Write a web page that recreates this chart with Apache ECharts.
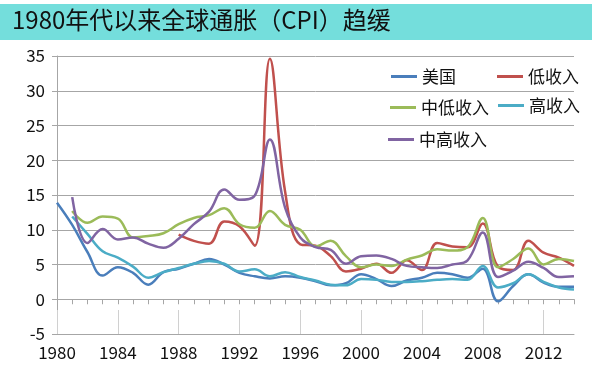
<!DOCTYPE html>
<html>
<head>
<meta charset="utf-8">
<script src="https://cdn.jsdelivr.net/npm/echarts@6/dist/echarts.min.js"></script>
<style>
html, body { margin: 0; padding: 0; background: #fff; }
#cpi-chart { width: 600px; height: 376px; }
</style>
</head>
<body>
<div id="cpi-chart"></div>
<script>
var years = [];
for (var y = 1980; y <= 2014; y++) years.push(String(y));

var usa = [13.9, 10.7, 6.8, 3.4, 4.6, 3.8, 2.1, 3.9, 4.4, 5.1,
    5.8, 5.0, 3.8, 3.3, 3.0, 3.3, 3.1, 2.6, 2.0, 2.3,
    3.6, 2.9, 1.9, 2.7, 3.1, 3.8, 3.6, 3.1, 4.4, -0.3,
    1.9, 3.6, 2.4, 1.8, 1.8];

var lowIncome = [null, null, null, null, null, null, null, null, 9.3, 8.4,
    8.0, 11.2, 10.5, 7.7, 34.6, 15.5, 7.9, 7.7, 6.2, 4.0,
    4.4, 5.1, 3.8, 5.6, 4.2, 8.1, 7.6, 7.5, 10.9, 4.7,
    4.2, 8.4, 6.7, 6.0, 4.8];

var lowerMiddle = [null, 12.7, 11.0, 11.9, 11.6, 8.9, 9.1, 9.5, 10.8, 11.7,
    12.1, 13.1, 10.8, 10.3, 12.7, 10.7, 10.0, 7.6, 8.4, 6.2,
    4.6, 5.0, 4.8, 5.7, 6.3, 7.2, 7.0, 7.5, 11.7, 4.6,
    5.8, 7.3, 5.0, 5.8, 5.5];

var highIncome = [null, 11.9, 9.4, 6.9, 6.0, 4.7, 3.1, 3.9, 4.5, 5.1,
    5.5, 5.1, 4.0, 4.3, 3.3, 3.9, 3.2, 2.7, 2.1, 2.0,
    2.9, 2.8, 2.5, 2.5, 2.6, 2.8, 2.9, 2.8, 4.8, 1.7,
    2.3, 3.6, 2.5, 1.7, 1.4];

var upperMiddle = [null, 14.7, 8.1, 10.1, 8.6, 8.9, 8.0, 7.4, 8.7, 10.8,
    12.6, 15.8, 14.3, 14.9, 23.0, 13.2, 8.9, 7.5, 7.1, 5.1,
    6.2, 6.3, 5.8, 4.8, 4.6, 4.5, 5.0, 5.6, 9.6, 3.2,
    4.1, 5.4, 4.5, 3.2, 3.3];

var chart = echarts.init(document.getElementById('cpi-chart'));

var font = '"Noto Sans CJK SC", "Noto Sans", sans-serif';
var gridColor = '#a6a6a6';

function line(name, data, color) {
    return {
        name: name,
        type: 'line',
        data: data,
        smooth: 0.4,
        symbol: 'none',
        lineStyle: { width: 2.5, color: color },
        itemStyle: { color: color }
    };
}

function legendItem(name, left, top) {
    return {
        data: [name],
        left: left,
        top: top,
        icon: 'rect',
        itemWidth: 26,
        itemHeight: 3,
        itemGap: 4,
        selectedMode: false,
        textStyle: { fontFamily: font, fontSize: 17, color: '#111' }
    };
}

var option = {
    animation: false,
    graphic: [{
        type: 'rect',
        shape: { x: 0, y: 4, width: 592, height: 36 },
        style: { fill: '#74dedc' },
        silent: true
    }, {
        type: 'text',
        left: 12,
        top: 8,
        style: {
            text: '1980年代以来全球通胀（CPI）趋缓',
            font: '24px ' + font,
            fill: '#111'
        }
    }],
    legend: [
        legendItem('美国', 386, 63),
        legendItem('低收入', 492, 63),
        legendItem('中低收入', 385, 94),
        legendItem('高收入', 493, 92),
        legendItem('中高收入', 383, 126)
    ],
    grid: { left: 57, right: 26, top: 56, bottom: 42 },
    xAxis: [{
        type: 'category',
        data: years,
        boundaryGap: false,
        axisLine: { onZero: true, lineStyle: { color: gridColor } },
        axisTick: { show: true, interval: 0, length: 5, lineStyle: { color: gridColor } },
        axisLabel: { show: false }
    }, {
        type: 'category',
        data: years,
        boundaryGap: false,
        position: 'bottom',
        axisLine: { onZero: false, lineStyle: { color: gridColor } },
        axisTick: { show: true, inside: true, interval: 3, length: 24, lineStyle: { color: '#d0d0d0' } },
        axisLabel: { interval: 3, margin: 10, fontFamily: font, fontSize: 17, color: '#111' }
    }],
    yAxis: {
        type: 'value',
        min: -5,
        max: 35,
        interval: 5,
        axisLine: { show: true, lineStyle: { color: gridColor } },
        axisTick: { show: true, length: 5, lineStyle: { color: gridColor } },
        axisLabel: { margin: 12, fontFamily: font, fontSize: 17, color: '#111' },
        splitLine: { lineStyle: { color: gridColor } }
    },
    series: [
        line('美国', usa, '#4a7ebb'),
        line('低收入', lowIncome, '#c0504d'),
        line('中低收入', lowerMiddle, '#9bbb59'),
        line('高收入', highIncome, '#4bacc6'),
        line('中高收入', upperMiddle, '#8064a2')
    ]
};

chart.setOption(option);
</script>
</body>
</html>
